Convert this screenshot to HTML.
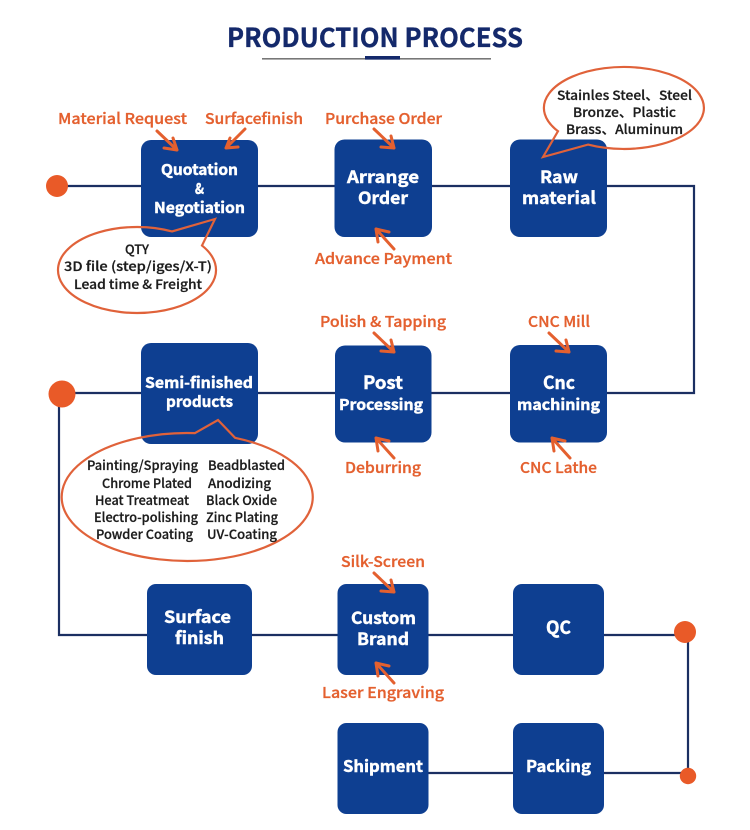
<!DOCTYPE html>
<html lang="en">
<head>
<meta charset="utf-8">
<title>Production Process</title>
<style>
html,body{margin:0;padding:0;background:#fff;width:750px;height:830px;overflow:hidden}
svg{display:block}
text{font-family:"Noto Sans CJK SC","Liberation Sans",sans-serif}
.t{fill:#14296b;stroke:#14296b;stroke-width:.35px;font-weight:700}
.w{fill:#fff;stroke:#fff;stroke-width:.45px;font-weight:700}
.o{fill:#e4602f;stroke:#e4602f;stroke-width:.3px;font-size:15px;font-weight:500}
.k{fill:#1c1c1c;stroke:#1c1c1c;stroke-width:.25px;font-size:13px;font-weight:500}
.b{fill:#0e3f91}
.l{fill:none;stroke:#1b2f62;stroke-width:2.2}
.a{fill:none;stroke:#e4602f;stroke-width:3;stroke-linecap:round;stroke-linejoin:round}
.bb{fill:none;stroke:#e0623a;stroke-width:2.2}
</style>
</head>
<body>
<svg width="750" height="830" viewBox="0 0 750 830" xmlns="http://www.w3.org/2000/svg">
<rect width="750" height="830" fill="#fff"/>

<text class="t" x="227" y="47" font-size="26" textLength="296" lengthAdjust="spacingAndGlyphs">PRODUCTION PROCESS</text>
<rect x="262" y="58" width="229" height="1.6" fill="#777"/>
<rect x="365" y="56" width="35" height="3.6" fill="#14296b"/>

<path class="l" d="M57 186H694V393H62"/>
<path class="l" d="M59 394V635H685"/>
<path class="l" d="M688 632V773H428"/>

<circle cx="57" cy="186" r="11" fill="#e95a28"/>
<circle cx="62" cy="394" r="13.5" fill="#e95a28"/>
<circle cx="685" cy="632" r="11" fill="#e95a28"/>
<circle cx="688" cy="776" r="8.2" fill="#e95a28"/>

<rect class="b" x="141" y="140" width="117" height="97" rx="10"/>
<rect class="b" x="334.500" y="139.500" width="97.500" height="97.500" rx="10"/>
<rect class="b" x="510" y="139.500" width="97" height="97.500" rx="10"/>
<rect class="b" x="141" y="343" width="117" height="101" rx="10"/>
<rect class="b" x="335" y="345.500" width="96.500" height="97" rx="10"/>
<rect class="b" x="510" y="345" width="97" height="97.500" rx="10"/>
<rect class="b" x="147" y="584" width="105" height="91" rx="9"/>
<rect class="b" x="337.500" y="584" width="91" height="91" rx="9"/>
<rect class="b" x="513" y="584" width="91" height="91" rx="9"/>
<rect class="b" x="337.500" y="723" width="91" height="91" rx="9"/>
<rect class="b" x="513" y="723" width="91" height="91" rx="9"/>

<path class="bb" d="M215 219L172 231.450A79 43 0 1 0 202 245.560Z"/>
<path class="bb" d="M543 157L558 131.200A80 41 0 1 1 588 144.600Z"/>
<path class="bb" d="M195 433.100L218 420L235 437.800A125.500 64 0 1 1 195 433.100Z"/>

<g class="a">
<path d="M157 131L177 150M173 138L177 150L164 148"/>
<path d="M245 129L226 148M230 138L226 148L238 147"/>
<path d="M374 129L394 148M391 136L394 148L381 147"/>
<path d="M394 249L376 229M389 232L376 229L378 242"/>
<path d="M374 333L394 352M391 340L394 352L381 351"/>
<path d="M549 333L569 352M566 340L569 352L556 351"/>
<path d="M394 458L376 438M389 441L376 438L378 451"/>
<path d="M570 458L552 438M565 441L552 438L554 451"/>
<path d="M374 573L394 592M391 580L394 592L381 591"/>
<path d="M394 683L376 663M389 666L376 663L378 676"/>
</g>

<text class="w" font-size="15" x="161" y="175" textLength="77" lengthAdjust="spacingAndGlyphs">Quotation</text>
<text class="w" font-size="15" x="195" y="194" textLength="9" lengthAdjust="spacingAndGlyphs">&amp;</text>
<text class="w" font-size="15" x="154" y="213" textLength="91" lengthAdjust="spacingAndGlyphs">Negotiation</text>
<text class="w" font-size="17" x="347" y="183" textLength="72" lengthAdjust="spacingAndGlyphs">Arrange</text>
<text class="w" font-size="17" x="358" y="204" textLength="50" lengthAdjust="spacingAndGlyphs">Order</text>
<text class="w" font-size="17" x="540" y="183" textLength="38" lengthAdjust="spacingAndGlyphs">Raw</text>
<text class="w" font-size="17" x="522" y="204" textLength="74" lengthAdjust="spacingAndGlyphs">material</text>
<text class="w" font-size="15" x="145" y="388" textLength="108" lengthAdjust="spacingAndGlyphs">Semi-finished</text>
<text class="w" font-size="15" x="166" y="407" textLength="67" lengthAdjust="spacingAndGlyphs">products</text>
<text class="w" font-size="18" x="363" y="389" textLength="40" lengthAdjust="spacingAndGlyphs">Post</text>
<text class="w" font-size="15" x="339" y="410" textLength="84" lengthAdjust="spacingAndGlyphs">Processing</text>
<text class="w" font-size="18" x="543" y="389" textLength="32" lengthAdjust="spacingAndGlyphs">Cnc</text>
<text class="w" font-size="15" x="517" y="410" textLength="83" lengthAdjust="spacingAndGlyphs">machining</text>
<text class="w" font-size="17" x="164" y="623" textLength="67" lengthAdjust="spacingAndGlyphs">Surface</text>
<text class="w" font-size="17" x="175" y="644" textLength="49" lengthAdjust="spacingAndGlyphs">finish</text>
<text class="w" font-size="17" x="351" y="624" textLength="65" lengthAdjust="spacingAndGlyphs">Custom</text>
<text class="w" font-size="17" x="357" y="645" textLength="52" lengthAdjust="spacingAndGlyphs">Brand</text>
<text class="w" font-size="18" x="546" y="634" textLength="25" lengthAdjust="spacingAndGlyphs">QC</text>
<text class="w" font-size="16" x="343" y="772" textLength="80" lengthAdjust="spacingAndGlyphs">Shipment</text>
<text class="w" font-size="16" x="526" y="772" textLength="65" lengthAdjust="spacingAndGlyphs">Packing</text>

<text class="o" x="58" y="124" textLength="129" lengthAdjust="spacingAndGlyphs">Material Request</text>
<text class="o" x="205" y="124" textLength="98" lengthAdjust="spacingAndGlyphs">Surfacefinish</text>
<text class="o" x="325" y="124" textLength="117" lengthAdjust="spacingAndGlyphs">Purchase Order</text>
<text class="o" x="315" y="264" textLength="137" lengthAdjust="spacingAndGlyphs">Advance Payment</text>
<text class="o" x="320" y="327" textLength="126" lengthAdjust="spacingAndGlyphs">Polish &amp; Tapping</text>
<text class="o" x="528" y="327" textLength="62" lengthAdjust="spacingAndGlyphs">CNC Mill</text>
<text class="o" x="345" y="473" textLength="76" lengthAdjust="spacingAndGlyphs">Deburring</text>
<text class="o" x="520" y="473" textLength="77" lengthAdjust="spacingAndGlyphs">CNC Lathe</text>
<text class="o" x="341" y="567" textLength="84" lengthAdjust="spacingAndGlyphs">Silk-Screen</text>
<text class="o" x="322" y="698" textLength="122" lengthAdjust="spacingAndGlyphs">Laser Engraving</text>

<text class="k" x="125" y="254" textLength="24" lengthAdjust="spacingAndGlyphs">QTY</text>
<text class="k" x="64" y="271" textLength="148" lengthAdjust="spacingAndGlyphs">3D file (step/iges/X-T)</text>
<text class="k" x="74" y="289" textLength="128" lengthAdjust="spacingAndGlyphs">Lead time &amp; Freight</text>

<text class="k" x="557" y="100" textLength="135" lengthAdjust="spacingAndGlyphs">Stainles Steel、Steel</text>
<text class="k" x="573" y="117" textLength="103" lengthAdjust="spacingAndGlyphs">Bronze、Plastic</text>
<text class="k" x="566" y="134" textLength="117" lengthAdjust="spacingAndGlyphs">Brass、Aluminum</text>

<text class="k" x="87" y="470" textLength="111" lengthAdjust="spacingAndGlyphs">Painting/Spraying</text>
<text class="k" x="208" y="470" textLength="77" lengthAdjust="spacingAndGlyphs">Beadblasted</text>
<text class="k" x="102" y="488" textLength="90" lengthAdjust="spacingAndGlyphs">Chrome Plated</text>
<text class="k" x="208" y="488" textLength="63" lengthAdjust="spacingAndGlyphs">Anodizing</text>
<text class="k" x="95" y="505" textLength="94" lengthAdjust="spacingAndGlyphs">Heat Treatmeat</text>
<text class="k" x="206" y="505" textLength="71" lengthAdjust="spacingAndGlyphs">Black Oxide</text>
<text class="k" x="94" y="522" textLength="104" lengthAdjust="spacingAndGlyphs">Electro-polishing</text>
<text class="k" x="206" y="522" textLength="72" lengthAdjust="spacingAndGlyphs">Zinc Plating</text>
<text class="k" x="96" y="539" textLength="97" lengthAdjust="spacingAndGlyphs">Powder Coating</text>
<text class="k" x="207" y="539" textLength="70" lengthAdjust="spacingAndGlyphs">UV-Coating</text>
</svg>
</body>
</html>
